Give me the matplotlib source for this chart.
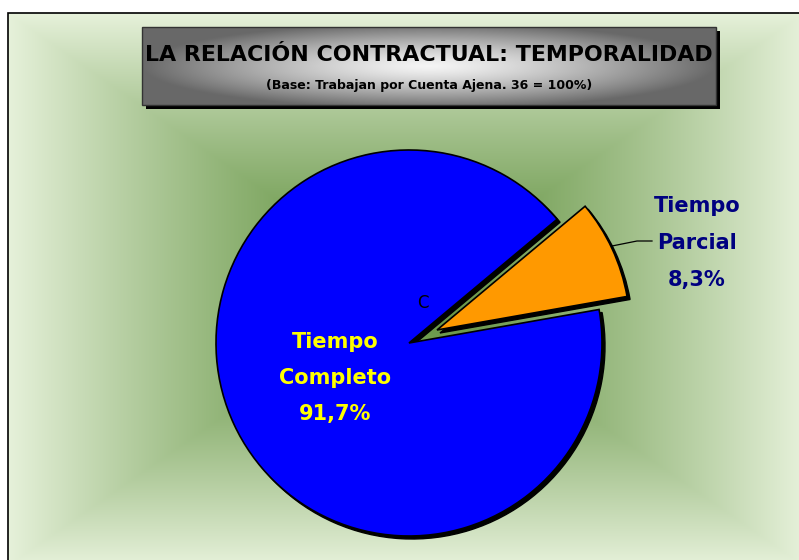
import numpy as np
import matplotlib
matplotlib.use("Agg")
import matplotlib.pyplot as plt
from matplotlib.patches import Rectangle

# ---- data ----
categories = ["Tiempo Parcial", "Tiempo Completo"]
values = [8.3, 91.7]
value_labels = ["8,3%", "91,7%"]
colors = ["#FF9900", "#0000FF"]
title = "LA RELACIÓN CONTRACTUAL: TEMPORALIDAD"
subtitle = "(Base: Trabajan por Cuenta Ajena. 36 = 100%)"

W, H = 799, 560
fig = plt.figure(figsize=(W / 100, H / 100), dpi=100)
ax = fig.add_axes([0, 0, 1, 1])
ax.set_xlim(0, W)
ax.set_ylim(0, H)
ax.axis("off")

def Y(y):
    return H - y

# ---- background gradient (rectangular path gradient) ----
fx0, fy0, fx1, fy1 = 8, 13, 804, 566
gw, gh = 400, 300
xs = np.linspace(-1, 1, gw)
ys = np.linspace(-1, 1, gh)
XX, YY = np.meshgrid(xs, ys)
t = np.clip(np.maximum(np.abs(XX), np.abs(YY)), 0, 1) ** 1.3
c_in = np.array([98, 146, 64]) / 255
c_out = np.array([230, 241, 218]) / 255
img = c_in[None, None, :] + (c_out - c_in)[None, None, :] * t[..., None]
ax.imshow(img, extent=(fx0, fx1, Y(fy1), Y(fy0)), aspect="auto", zorder=0,
          interpolation="bilinear")
ax.add_patch(Rectangle((fx0, Y(fy1)), fx1 - fx0, fy1 - fy0, fill=False,
                       edgecolor="black", lw=1.2, zorder=1))

# ---- title box ----
bx0, by0, bx1, by1 = 142, 27, 716, 105
ax.add_patch(Rectangle((bx0 + 4, Y(by1 + 4)), bx1 - bx0, by1 - by0,
                       facecolor="black", edgecolor="none", zorder=2))
tx = np.linspace(-1, 1, 300)
ty = np.linspace(-1, 1, 60)
TX, TY = np.meshgrid(tx, ty)
tt = np.clip(np.sqrt(TX ** 2 + (TY * 0.9) ** 2), 0, 1)
g = 0.96 - 0.55 * tt ** 1.3
timg = np.dstack([g, g, g])
ax.imshow(timg, extent=(bx0, bx1, Y(by1), Y(by0)), aspect="auto", zorder=3,
          interpolation="bilinear")
ax.add_patch(Rectangle((bx0, Y(by1)), bx1 - bx0, by1 - by0, fill=False,
                       edgecolor="#333333", lw=1.0, zorder=4))
ax.text((bx0 + bx1) / 2, Y(55), title, ha="center", va="center",
        fontsize=15.9, fontweight="bold", color="black", zorder=5,
        family="DejaVu Sans")
ax.text((bx0 + bx1) / 2, Y(86), subtitle, ha="center", va="center",
        fontsize=9, fontweight="bold", color="black", zorder=5,
        family="DejaVu Sans")

# ---- pie ----
cx, cy, R = 409, 343, 193
explode = [0.16 * R, 0.0]
start = 10
# shadow
ax.pie(values, explode=explode, startangle=start, counterclock=True,
       center=(cx + 3, Y(cy) - 3), radius=R, colors=["black", "black"],
       wedgeprops=dict(edgecolor="black", linewidth=1.0, zorder=6),
       frame=True)
wedges, _ = ax.pie(values, explode=explode, startangle=start, counterclock=True,
                   center=(cx, Y(cy)), radius=R, colors=colors,
                   wedgeprops=dict(edgecolor="black", linewidth=1.2),
                   frame=True)
for w in wedges:
    w.set_zorder(7)
ax.set_xlim(0, W)
ax.set_ylim(0, H)
ax.set_aspect("auto")
ax.axis("off")

# leader line for small slice
ax.plot([612, 637, 652], [Y(246), Y(241), Y(241)], color="black", lw=0.9,
        zorder=8)

ax.text(697, Y(243), "Tiempo\nParcial\n" + value_labels[0], ha="center",
        va="center", fontsize=15, fontweight="bold", color="#000080",
        linespacing=2.05, zorder=9, family="DejaVu Sans")
ax.text(335, Y(378), "Tiempo\nCompleto\n" + value_labels[1], ha="center",
        va="center", fontsize=15, fontweight="bold", color="#FFFF00",
        linespacing=2.0, zorder=9, family="DejaVu Sans")
ax.text(423, Y(303), "C", ha="center", va="center", fontsize=12,
        color="black", zorder=9, family="DejaVu Sans")

fig.savefig("out.png", dpi=100)
